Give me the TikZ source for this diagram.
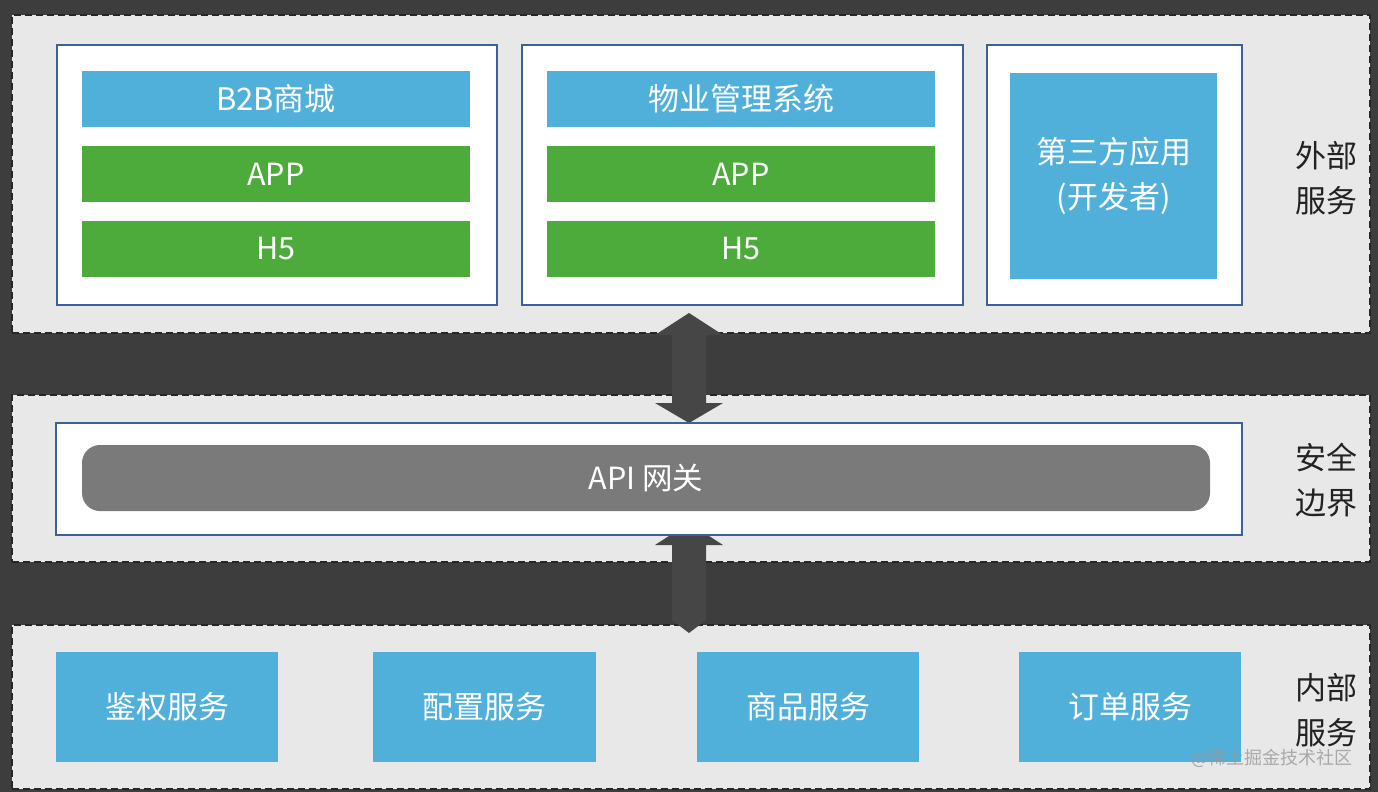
\documentclass[tikz,border=0pt]{standalone}
\usepackage{fontspec}
\setmainfont{Noto Sans CJK SC}
\newfontfamily\cjk{Noto Sans CJK SC}
\definecolor{darkbg}{HTML}{3D3D3D}
\definecolor{bandgray}{HTML}{E8E8E8}
\definecolor{skyblue}{HTML}{50B0DA}
\definecolor{appgreen}{HTML}{4CAB3A}
\definecolor{edgeblue}{HTML}{3D6098}
\definecolor{barsgray}{HTML}{7A7A7A}
\definecolor{arrowgray}{HTML}{464646}
\definecolor{labelink}{HTML}{222222}
\tikzset{
  band/.style={fill=bandgray, draw=black!85, line width=1.8pt, dash pattern=on 7pt off 4pt},
  frame/.style={fill=white, draw=edgeblue, line width=1.6pt, inner sep=0pt},
  bluebox/.style={fill=skyblue, draw=none, text=white, inner sep=0pt, font=\cjk\fontsize{31}{45}\selectfont, align=center},
  greenbox/.style={fill=appgreen, draw=none, text=white, inner sep=0pt, font=\cjk\fontsize{30.5}{34}\selectfont},
  sidelabel/.style={text=labelink, font=\cjk\fontsize{31}{45}\selectfont, align=center, inner sep=0pt},
  gwbar/.style={fill=barsgray, draw=none, rounded corners=18pt, text=white, inner sep=0pt, font=\cjk\fontsize{30.5}{34}\selectfont},
  bigarrow/.style={fill=arrowgray, draw=none},
}
\begin{document}
\begin{tikzpicture}[x=1pt,y=-1pt]
\fill[darkbg] (0,0) rectangle (1378,792);
\useasboundingbox (0,0) rectangle (1378,792);
% bands
\node[band, minimum width=1358pt, minimum height=318pt, inner sep=0pt] (outerband) at (691,174) {};
\node[band, minimum width=1358pt, minimum height=167pt, inner sep=0pt] (secband) at (691,478.5) {};
\node[band, minimum width=1358pt, minimum height=164pt, inner sep=0pt] (innerband) at (691,707) {};
% arrows
\fill[bigarrow] (689,313) -- (723,335) -- (706,335) -- (706,403) -- (723,403) -- (689,423)
  -- (655,403) -- (672,403) -- (672,335) -- (655,335) -- cycle;
\fill[bigarrow] (689,523) -- (723,545) -- (706,545) -- (706,620) -- (689,633)
  -- (672,620) -- (672,545) -- (655,545) -- cycle;
% external services
\node[frame, minimum width=440pt, minimum height=260pt] (frameA) at (277,175) {};
\node[bluebox, minimum width=388pt, minimum height=56pt] (b2b) at (276,99) {B2B商城};
\node[greenbox, minimum width=388pt, minimum height=56pt] (appA) at (276,174) {APP};
\node[greenbox, minimum width=388pt, minimum height=56pt] (h5A) at (276,248.5) {H5};
\node[frame, minimum width=441pt, minimum height=260pt] (frameB) at (742.5,175) {};
\node[bluebox, minimum width=388pt, minimum height=56pt] (wuye) at (741,99) {物业管理系统};
\node[greenbox, minimum width=388pt, minimum height=56pt] (appB) at (741,174) {APP};
\node[greenbox, minimum width=388pt, minimum height=56pt] (h5B) at (741,248.5) {H5};
\node[frame, minimum width=255pt, minimum height=260pt] (frameC) at (1114.5,175) {};
\node[bluebox, minimum width=207pt, minimum height=206pt] (third) at (1113.5,175.5) {第三方应用\\(开发者)};
\node[sidelabel] (lblExt) at (1326,178) {外部\\服务};
% gateway
\node[frame, minimum width=1186pt, minimum height=112pt] (gwframe) at (649,479) {};
\node[gwbar, minimum width=1128pt, minimum height=66pt] (gateway) at (646,478) {API 网关};
\node[sidelabel] (lblSec) at (1326,480) {安全\\边界};
% internal services
\node[bluebox, minimum width=222pt, minimum height=110pt] (auth) at (167,707) {鉴权服务};
\node[bluebox, minimum width=223pt, minimum height=110pt] (config) at (484.5,707) {配置服务};
\node[bluebox, minimum width=222pt, minimum height=110pt] (goods) at (808,707) {商品服务};
\node[bluebox, minimum width=222pt, minimum height=110pt] (order) at (1130,707) {订单服务};
\node[sidelabel] (lblInt) at (1326,710) {内部\\服务};
% watermark
\node[text=black!40, opacity=0.8, font=\cjk\fontsize{18}{20}\selectfont, inner sep=0pt] (wm) at (1272,758) {@稀土掘金技术社区};
\end{tikzpicture}
\end{document}
